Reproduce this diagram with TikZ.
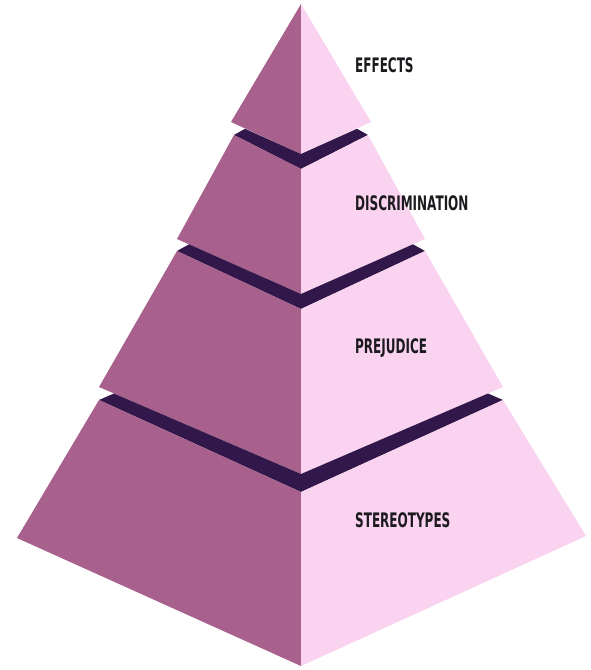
\documentclass[tikz,border=0pt]{standalone}
\usepackage{fontspec}
\setmainfont{DejaVu Sans}
\usepackage{graphicx}
\usetikzlibrary{positioning}
\definecolor{mauve}{HTML}{A8608C}
\definecolor{blush}{HTML}{F9D3EF}
\definecolor{plum}{HTML}{32184A}
\definecolor{ink}{HTML}{1C1A1E}
\newcommand{\narrow}[1]{\scalebox{0.6}[1]{#1}}

\begin{document}
\begin{tikzpicture}[x=1pt,y=-1pt,
  darkface/.style={fill=mauve},
  lightface/.style={fill=blush},
  chevron/.style={fill=plum},
  lbl/.style={anchor=west, text=ink, font=\bfseries\fontsize{20}{20}\selectfont}]
\tikzstyle{every node}+=[inner sep=0pt]
\fill [white] (0,0) rectangle (590,670);
\useasboundingbox (0,0) rectangle (590,670);
% top piece
\fill [darkface] (301,4) -- (231,122) -- (301,154) -- cycle;
\fill [lightface] (301,4) -- (371,122) -- (301,154) -- cycle;
\fill [chevron] (234,135) -- (245,128.8) -- (301,154) -- (357,128.8) -- (368,135) -- (301,169) -- cycle;
% second layer
\fill [darkface] (234,135) -- (301,169) -- (301,294) -- (177,239) -- cycle;
\fill [lightface] (368,135) -- (301,169) -- (301,294) -- (425,239) -- cycle;
\fill [chevron] (177,251) -- (189,244.3) -- (301,294) -- (413,244.3) -- (425,251) -- (301,309) -- cycle;
% third layer
\fill [darkface] (177,251) -- (301,309) -- (301,474) -- (99,387) -- cycle;
\fill [lightface] (425,251) -- (301,309) -- (301,474) -- (503,387) -- cycle;
\fill [chevron] (99,400) -- (114,393.5) -- (301,474) -- (488,393.5) -- (503,400) -- (301,492) -- cycle;
% base
\fill [darkface] (99,400) -- (301,492) -- (301,666) -- (17,538) -- cycle;
\fill [lightface] (503,400) -- (301,492) -- (301,666) -- (586,536) -- cycle;
% labels
\node [lbl] (effects) at (355,65) {\narrow{EFFECTS}};
\node [lbl] (discrimination) at (355,203) {\narrow{DISCRIMINATION}};
\node [lbl] (prejudice) at (355,348) {\narrow{PREJUDICE}};
\node [lbl] (stereotypes) at (355,520) {\narrow{STEREOTYPES}};
\end{tikzpicture}
\end{document}
